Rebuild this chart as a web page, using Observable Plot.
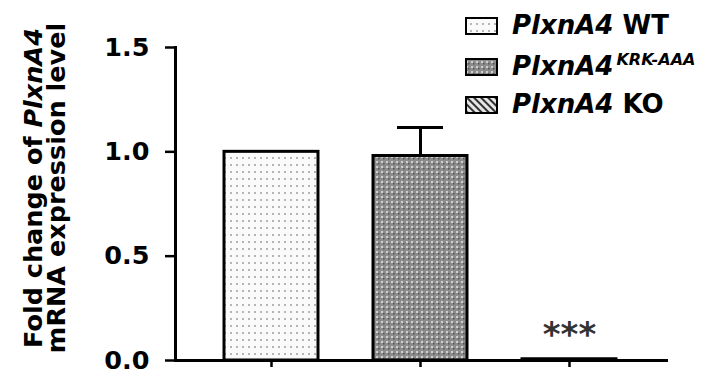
<!DOCTYPE html>
<html><head><meta charset="utf-8">
<script src="https://cdn.jsdelivr.net/npm/d3@7"></script>
<script src="https://cdn.jsdelivr.net/npm/@observablehq/plot@0.6"></script>
<style>body{margin:0;background:#fff;}</style>
</head><body><div id="chart"></div>
<script>
// ---- data ----
const genotypes = ["WT", "KRK-AAA", "KO"];
const foldChange = [1.0, 0.98, 0.006];
const errorUp = [0, 0.137, 0];
const significance = ["", "", "***"];
const yTicks = [0, 0.5, 1.0, 1.5];
const geneName = "PlxnA4";
const legendSuffix = [" WT", "KRK-AAA", " KO"];
const legendSuperscript = [false, true, false];
const titleLine1 = "Fold change of ";
const titleLine2 = "mRNA expression level";
const patternIds = ["pat-wt", "pat-krk", "pat-ko"];

const data = genotypes.map((g, i) => ({g, v: foldChange[i], e: errorUp[i], s: significance[i]}));
const withErr = data.filter(d => d.e > 0);
const font = "'DejaVu Sans', sans-serif";

const plot = Plot.plot({
  width: 711, height: 385,
  marginTop: 47, marginBottom: 25, marginLeft: 175, marginRight: 43,
  style: {fontFamily: font, fontWeight: "bold", fontSize: "24px", color: "#000", background: "#fff"},
  x: {domain: genotypes, range: [167, 672], padding: 0.37, label: null},
  y: {domain: [0, 1.5], label: null},
  color: {domain: genotypes, range: patternIds.map(id => `url(#${id})`)},
  marks: [
    Plot.barY(data, {x: "g", y: "v", fill: "g", stroke: "#000", strokeWidth: 3}),
    Plot.ruleX(withErr, {x: "g", y1: "v", y2: d => d.v + d.e, stroke: "#000", strokeWidth: 3}),
    Plot.tickY(withErr, {x: "g", y: d => d.v + d.e, stroke: "#000", strokeWidth: 3, insetLeft: 24, insetRight: 24}),
    Plot.text(data, {x: "g", y: "v", text: "s", lineAnchor: "bottom", dy: -13, fontSize: 34, fontWeight: "bold", fill: "#333", letterSpacing: 2}),
    Plot.axisY({ticks: yTicks, tickFormat: d3.format(".1f"), tickSize: 10, tickPadding: 16, strokeWidth: 2.5, fontSize: 25.5, label: null}),
    Plot.axisX({tickSize: 7, strokeWidth: 2.5, label: null}),
    Plot.frame({anchor: "left", strokeWidth: 3}),
    Plot.ruleY([0], {strokeWidth: 3})
  ]
});

const svg = d3.select(plot);
svg.selectAll('g[aria-label="x-axis tick label"]').remove();

// patterns
const defs = svg.insert("defs", ":first-child");
const pWT = defs.append("pattern").attr("id", "pat-wt").attr("patternUnits", "userSpaceOnUse").attr("width", 6).attr("height", 7);
pWT.append("rect").attr("width", 6).attr("height", 7).attr("fill", "#fafafa");
pWT.append("rect").attr("x", 2).attr("y", 3).attr("width", 2).attr("height", 2).attr("fill", "#b5b5b5");
const pKRK = defs.append("pattern").attr("id", "pat-krk").attr("patternUnits", "userSpaceOnUse").attr("width", 5).attr("height", 5);
pKRK.append("rect").attr("width", 5).attr("height", 5).attr("fill", "#8c8c8c");
pKRK.append("rect").attr("x", 1).attr("y", 1).attr("width", 2).attr("height", 2).attr("fill", "#cfcfcf");
pKRK.append("rect").attr("x", 3).attr("y", 3).attr("width", 1.5).attr("height", 1.5).attr("fill", "#555");
const pKO = defs.append("pattern").attr("id", "pat-ko").attr("patternUnits", "userSpaceOnUse").attr("width", 5).attr("height", 5).attr("patternTransform", "rotate(-45)");
pKO.append("rect").attr("width", 5).attr("height", 5).attr("fill", "#e6e6e6");
pKO.append("rect").attr("width", 2).attr("height", 5).attr("fill", "#333");

// y-axis title (rich text)
const title = svg.append("g").attr("transform", "translate(0,188)")
  .attr("font-family", font).attr("font-weight", "bold").attr("font-size", 25.5).attr("fill", "#000");
const t1 = title.append("text").attr("transform", "translate(42,0) rotate(-90)").attr("text-anchor", "middle");
t1.append("tspan").text(titleLine1);
t1.append("tspan").attr("font-style", "italic").text(geneName);
title.append("text").attr("transform", "translate(65,0) rotate(-90)").attr("text-anchor", "middle").text(titleLine2);

// legend
const legend = svg.append("g").attr("font-family", font).attr("font-weight", "bold").attr("font-size", 26)
  .attr("fill", "#000").attr("text-anchor", "start");
const rowBase = [34, 75, 113];
genotypes.forEach((g, i) => {
  const row = legend.append("g").attr("transform", `translate(0,${rowBase[i]})`);
  row.append("rect").attr("x", 466).attr("y", -16).attr("width", 31).attr("height", 16)
    .attr("fill", `url(#${patternIds[i]})`).attr("stroke", "#000").attr("stroke-width", 2);
  const tx = row.append("text").attr("x", 512).attr("y", 0).attr("text-anchor", "start");
  tx.append("tspan").attr("font-style", "italic").text(geneName);
  if (legendSuperscript[i]) {
    tx.append("tspan").attr("font-style", "italic").attr("font-size", 16).attr("dy", -10).attr("dx", 3).text(legendSuffix[i]);
  } else {
    tx.append("tspan").text(legendSuffix[i]);
  }
});

document.getElementById("chart").append(plot);
</script>
</body></html>
